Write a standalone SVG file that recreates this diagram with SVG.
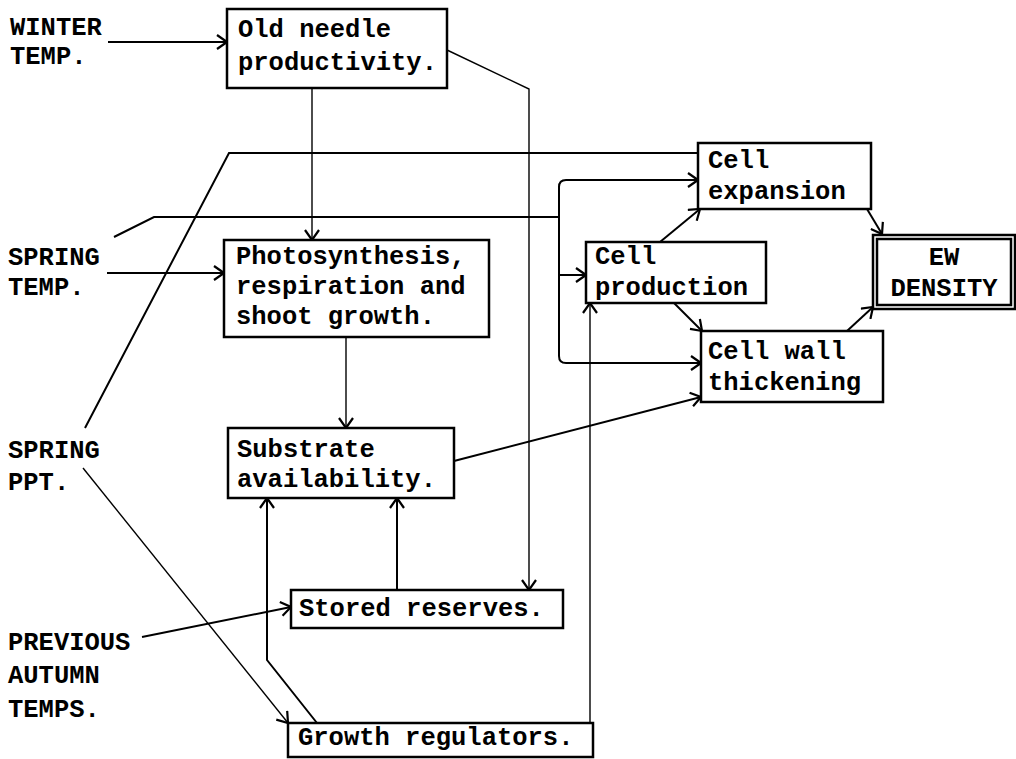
<svg xmlns="http://www.w3.org/2000/svg" width="1016" height="759" viewBox="0 0 1016 759">
<style>
text{font-family:"Liberation Mono","Courier New",monospace;font-size:25.5px;font-weight:bold;fill:#000}
.box{fill:#fff;stroke:#000;stroke-width:2.5}
.c{fill:none;stroke:#000;stroke-width:2}
.t{fill:none;stroke:#000;stroke-width:1.4}
</style>
<defs>
<marker id="ah" viewBox="0 0 12 16" refX="11" refY="8" markerWidth="12" markerHeight="16" markerUnits="userSpaceOnUse" orient="auto">
<path d="M1,1 L11,8 L1,15" fill="none" stroke="#000" stroke-width="2.2"/>
</marker>
</defs>
<rect width="1016" height="759" fill="#fff"/>
<g id="labels">
<text x="10" y="35">WINTER</text>
<text x="10" y="64">TEMP.</text>
<text x="8" y="265">SPRING</text>
<text x="8" y="295">TEMP.</text>
<text x="8" y="458">SPRING</text>
<text x="8" y="490">PPT.</text>
<text x="8" y="650">PREVIOUS</text>
<text x="8" y="683">AUTUMN</text>
<text x="8" y="717">TEMPS.</text>
</g>
<g id="connectors">
<path class="c" d="M108,42 L227,42" marker-end="url(#ah)"/>
<path class="t" d="M447,50 L529,89 L529,590" marker-end="url(#ah)"/>
<path class="t" d="M312,88 L312,240" marker-end="url(#ah)"/>
<path class="c" d="M85,428 L229,153 L698,153"/>
<path class="c" d="M114,237 L154,217 L559,217"/>
<path class="c" d="M566,180 Q559,180 559,187 L559,356 Q559,363 566,363 L701,363" marker-end="url(#ah)"/>
<path class="c" d="M566,180 L698,180" marker-end="url(#ah)"/>
<path class="c" d="M559,275 L586,275" marker-end="url(#ah)"/>
<path class="c" d="M107,273 L224,273" marker-end="url(#ah)"/>
<path class="t" d="M346,337 L346,428" marker-end="url(#ah)"/>
<path class="c" d="M454,461 L701,397" marker-end="url(#ah)"/>
<path class="c" d="M397,590 L397,498" marker-end="url(#ah)"/>
<path class="c" d="M317,723 L267,660 L267,498" marker-end="url(#ah)"/>
<path class="c" d="M142,637 L291,607" marker-end="url(#ah)"/>
<path class="t" d="M83,468 L288,723" marker-end="url(#ah)"/>
<path class="t" d="M590,723 L590,303" marker-end="url(#ah)"/>
<path class="c" d="M660,242 L700,209" marker-end="url(#ah)"/>
<path class="c" d="M674,303 L702,331" marker-end="url(#ah)"/>
<path class="c" d="M867,209 L882,234" marker-end="url(#ah)"/>
<path class="c" d="M847,331 L873,307" marker-end="url(#ah)"/>
</g>
<g id="old-needle">
<rect class="box" x="227" y="9" width="220" height="79"/>
<text x="238" y="37">Old needle</text>
<text x="238" y="70">productivity.</text>
</g>
<g id="photosynthesis">
<rect class="box" x="224" y="240" width="265" height="97"/>
<text x="236" y="264">Photosynthesis,</text>
<text x="236" y="294">respiration and</text>
<text x="236" y="324">shoot growth.</text>
</g>
<g id="substrate">
<rect class="box" x="228" y="428" width="226" height="70"/>
<text x="237" y="457">Substrate</text>
<text x="237" y="487">availability.</text>
</g>
<g id="stored-reserves">
<rect class="box" x="291" y="590" width="272" height="38"/>
<text x="299" y="616">Stored reserves.</text>
</g>
<g id="growth-regulators">
<rect class="box" x="288" y="723" width="305" height="34"/>
<text x="298" y="745">Growth regulators.</text>
</g>
<g id="cell-expansion">
<rect class="box" x="698" y="143" width="173" height="66"/>
<text x="708" y="168">Cell</text>
<text x="708" y="199">expansion</text>
</g>
<g id="cell-production">
<rect class="box" x="586" y="242" width="180" height="61"/>
<text x="595" y="264">Cell</text>
<text x="595" y="295">production</text>
</g>
<g id="cell-wall">
<rect class="box" x="701" y="331" width="182" height="71"/>
<text x="708" y="359">Cell wall</text>
<text x="708" y="390">thickening</text>
</g>
<g id="ew-density">
<rect class="box" x="873" y="235" width="142" height="74"/>
<rect class="box" x="877" y="239" width="134" height="66" stroke-width="2"/>
<text x="944" y="265" text-anchor="middle">EW</text>
<text x="944" y="296" text-anchor="middle">DENSITY</text>
</g>
</svg>
